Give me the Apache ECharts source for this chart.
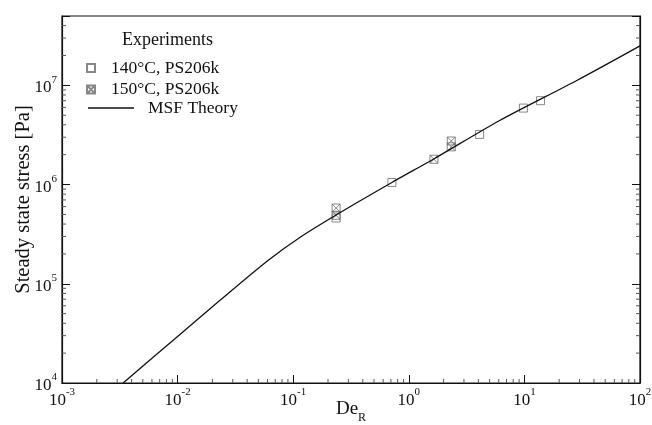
<!DOCTYPE html>
<html>
<head>
<meta charset="utf-8">
<script src="https://cdn.jsdelivr.net/npm/echarts@6/dist/echarts.min.js"></script>
<style>
  html, body { margin: 0; padding: 0; background: #fff; }
  #chart { width: 652px; height: 425px; }
</style>
</head>
<body>
<div id="chart"></div>
<script>
// Steady state stress vs. Rouse Deborah number, experiments and MSF theory
const seriesNames = ['140\u00B0C, PS206k', '150\u00B0C, PS206k', 'MSF Theory'];

// 140 °C measurements [De_R, stress Pa]
const exp140 = [
  [0.235, 4.6e5],
  [0.714, 1.05e6],
  [4.1, 3.2e6],
  [9.8, 5.9e6],
  [13.8, 7.0e6]
];

// 150 °C measurements [De_R, stress Pa]
const exp150 = [
  [0.235, 5.8e5],
  [0.235, 4.9e5],
  [1.65, 1.8e6],
  [2.33, 2.4e6],
  [2.33, 2.75e6]
];

// MSF model curve [De_R, stress Pa]
const msfTheory = [
  [0.00338, 1.0e4],
  [0.01, 2.95e4],
  [0.0234, 6.85e4],
  [0.0605, 1.72e5],
  [0.115, 2.95e5],
  [0.239, 5.0e5],
  [0.714, 1.05e6],
  [1.63, 1.8e6],
  [6.17, 4.45e6],
  [28.4, 1.12e7],
  [100, 2.5e7]
];

// axis ranges
const xRange = [1e-3, 1e2];
const yRange = [1e4, 5e7];

const FONT = '"Liberation Serif", "DejaVu Serif", serif';

// minor log ticks (2..9 within each decade)
function minorTicks(lo, hi) {
  const out = [];
  for (let e = Math.floor(Math.log10(lo)); e <= Math.ceil(Math.log10(hi)); e++) {
    for (let k = 2; k <= 9; k++) {
      const v = k * Math.pow(10, e);
      if (v > lo && v < hi) out.push(v);
    }
  }
  return out;
}
const xMinor = minorTicks(xRange[0], xRange[1]);
const yMinor = minorTicks(yRange[0], yRange[1]);

function powLabel(v) {
  const e = Math.round(Math.log10(v));
  if (Math.abs(Math.log10(v) - e) > 1e-6) return '';
  return '{b|10}{s|' + e + '}';
}
const labelRich = {
  b: { fontFamily: FONT, fontSize: 17, color: '#111', verticalAlign: 'bottom', lineHeight: 22 },
  s: { fontFamily: FONT, fontSize: 11, color: '#111', verticalAlign: 'top', lineHeight: 22, padding: [0, 0, 9, 0] }
};

const hollow = { color: 'rgba(0,0,0,0)', borderColor: '#6a6a6a', borderWidth: 1 };
const boxCross = 'path://M0,0H10V10H0ZM0,0L10,10M10,0L0,10';

function tickSeries(data, dx, dy) {
  return {
    type: 'custom',
    silent: true,
    clip: false,
    z: 1,
    data: data,
    renderItem: function (params, api) {
      const p = api.coord([api.value(0), api.value(1)]);
      return {
        type: 'line',
        shape: { x1: p[0], y1: p[1], x2: p[0] + dx, y2: p[1] + dy },
        style: { stroke: '#555', lineWidth: 1 }
      };
    }
  };
}

const legendText = { fontFamily: FONT, fontSize: 17.5, color: '#111' };

const chart = echarts.init(document.getElementById('chart'), null, { renderer: 'canvas' });
chart.setOption({
  animation: false,
  backgroundColor: '#fff',
  grid: {
    left: 62, right: 12, top: 16, bottom: 42,
    outerBoundsMode: 'none',
    containLabel: false,
    show: true, borderColor: '#111', borderWidth: 1.2, backgroundColor: 'transparent'
  },
  title: {
    text: 'Experiments',
    left: 122, top: 31, padding: 0,
    textStyle: { fontFamily: FONT, fontSize: 18, fontWeight: 'normal', color: '#111' }
  },
  legend: [
    {
      data: [seriesNames[0], seriesNames[1]],
      orient: 'vertical',
      left: 81, top: 54,
      itemWidth: 8, itemHeight: 8, itemGap: 3.5,
      textStyle: Object.assign({ padding: [0, 0, 0, 11] }, legendText)
    },
    {
      data: [{ name: seriesNames[2], icon: 'rect' }],
      left: 83, top: 94,
      itemWidth: 46, itemHeight: 1.5,
      itemStyle: { color: '#111' },
      textStyle: Object.assign({ padding: [0, 0, 0, 9] }, legendText)
    }
  ],
  xAxis: {
    type: 'log', logBase: 10,
    min: xRange[0], max: xRange[1],
    name: '{a|De}{r|R}',
    nameLocation: 'middle', nameGap: 17,
    nameMoveOverlap: false,
    nameTextStyle: {
      fontFamily: FONT, fontSize: 19, color: '#111',
      rich: {
        a: { fontFamily: FONT, fontSize: 19, color: '#111', verticalAlign: 'top', lineHeight: 24 },
        r: { fontFamily: FONT, fontSize: 12, color: '#111', verticalAlign: 'bottom', lineHeight: 24, padding: [6, 0, 0, 0] }
      }
    },
    axisLine: { show: true, lineStyle: { color: '#111', width: 1.2 } },
    axisTick: { show: true, inside: true, length: 8, lineStyle: { color: '#111' } },
    splitLine: { show: false },
    axisLabel: { formatter: powLabel, rich: labelRich, margin: 4 }
  },
  yAxis: [
    {
      type: 'log', logBase: 10,
      min: yRange[0], max: yRange[1],
      name: 'Steady state stress [Pa]',
      nameLocation: 'middle', nameGap: 28,
      nameMoveOverlap: false,
      nameTextStyle: { fontFamily: FONT, fontSize: 20.5, color: '#111' },
      axisLine: { show: true, lineStyle: { color: '#111', width: 1.2 } },
      axisTick: { show: true, inside: true, length: 8, lineStyle: { color: '#111' } },
      splitLine: { show: false },
      axisLabel: { formatter: powLabel, rich: labelRich, margin: 5 }
    },
    {
      type: 'log', logBase: 10, position: 'right',
      min: yRange[0], max: yRange[1],
      axisLine: { show: true, lineStyle: { color: '#111', width: 1.2 } },
      axisTick: { show: true, inside: true, length: 8, lineStyle: { color: '#111' } },
      splitLine: { show: false },
      axisLabel: { show: false }
    }
  ],
  series: [
    {
      name: seriesNames[0],
      type: 'scatter',
      data: exp140,
      symbol: 'rect',
      symbolSize: 8,
      itemStyle: hollow,
      z: 3
    },
    {
      name: seriesNames[1],
      type: 'scatter',
      data: exp150,
      symbol: boxCross,
      symbolSize: 8,
      itemStyle: hollow,
      z: 3
    },
    {
      name: seriesNames[2],
      type: 'line',
      data: msfTheory,
      symbol: 'none',
      smooth: 0.3,
      lineStyle: { color: '#111', width: 1.3 },
      itemStyle: { color: '#111' },
      z: 4
    },
    tickSeries(xMinor.map(v => [v, yRange[0]]), 0, -4),
    tickSeries(yMinor.map(v => [xRange[0], v]), 4, 0),
    tickSeries(yMinor.map(v => [xRange[1], v]), -4, 0)
  ]
});
</script>
</body>
</html>
